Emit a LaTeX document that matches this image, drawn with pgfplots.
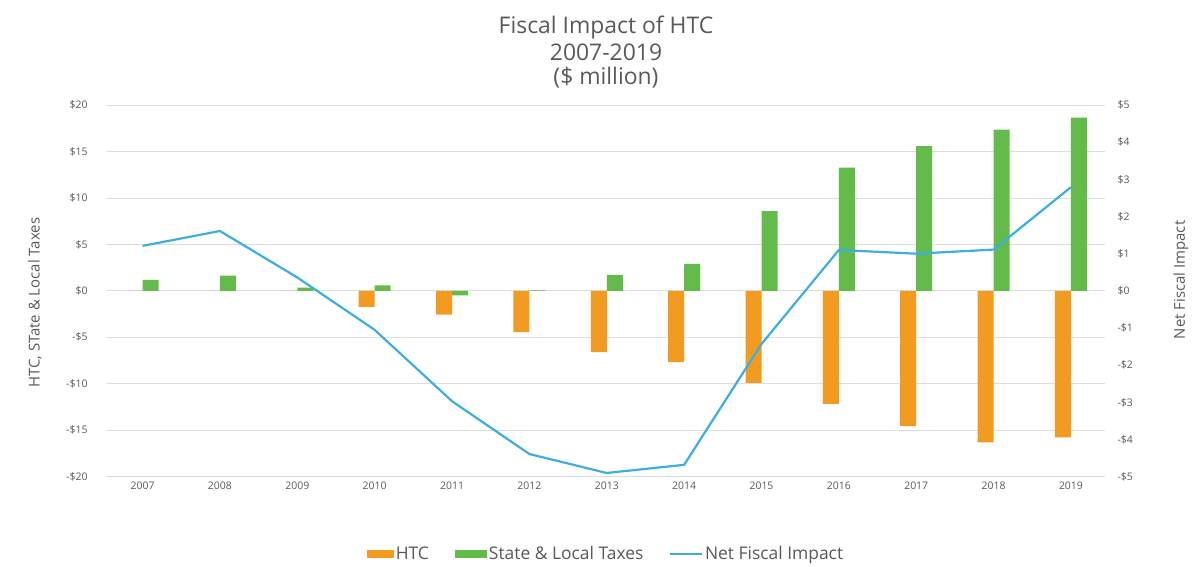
\documentclass[border=0pt]{standalone}
\usepackage{pgfplots}
\pgfplotsset{compat=1.18}
\usepackage{fontspec}
\setmainfont{Open Sans}
\definecolor{htc}{HTML}{F39A21}
\definecolor{slt}{HTML}{62BB4A}
\definecolor{nfi}{HTML}{3DAEE0}
\definecolor{txt}{HTML}{595959}
\definecolor{grd}{HTML}{DDDDDD}
\begin{document}
\begin{tikzpicture}
\pgfplotsset{
  base/.style={
    scale only axis, width=998bp, height=371.7bp,
    xmin=-0.46, xmax=12.44,
    tick style={draw=none},
    ticklabel style={font=\fontsize{10.5}{11}\selectfont, text=txt},
    /pgf/number format/assume math mode=true,
  }
}
\begin{axis}[base, name=ax,
  ymin=-20, ymax=20,
  axis line style={draw=none},
  ytick={-20,-15,-10,-5,0,5,10,15,20},
  yticklabels={-\$20,-\$15,-\$10,-\$5,\$0,\$5,\$10,\$15,\$20},
  yticklabel style={xshift=-16bp},
  ymajorgrids, grid style={grd, line width=0.8pt},
  xtick={0,...,12},
  xticklabels={2007,2008,2009,2010,2011,2012,2013,2014,2015,2016,2017,2018,2019},
  xticklabel style={yshift=-2bp},
  legend columns=3,
  legend style={draw=none, at={(0.5,-0.208)}, anchor=center,
    font=\fontsize{17.5}{19}\selectfont, text=txt,
    /tikz/every even column/.append style={column sep=24bp},
    inner sep=0pt},
]
\addplot[ybar, bar width=16bp, bar shift=-8bp, fill=htc, draw=none,
  legend image code/.code={\fill[htc] (0bp,-4bp) rectangle (27bp,4bp);}]
  coordinates {(0,0) (1,0) (2,0) (3,-1.72) (4,-2.55) (5,-4.45) (6,-6.6) (7,-7.68) (8,-9.9) (9,-12.16) (10,-14.57) (11,-16.3) (12,-15.76)};
\addlegendentry{HTC}
\addplot[ybar, bar width=16bp, bar shift=8bp, fill=slt, draw=none,
  legend image code/.code={\fill[slt] (0bp,-4bp) rectangle (32bp,4bp);}]
  coordinates {(0,1.18) (1,1.64) (2,0.35) (3,0.6) (4,-0.5) (5,0.06) (6,1.72) (7,2.9) (8,8.57) (9,13.27) (10,15.57) (11,17.36) (12,18.65)};
\addlegendentry{State \& Local Taxes}
\addlegendimage{nfi, line width=1.6pt, legend image code/.code={\draw[nfi, line width=1.6pt] (0bp,0bp) -- (32bp,0bp);}}
\addlegendentry{Net Fiscal Impact}
\end{axis}
\begin{axis}[base,
  ymin=-5, ymax=5,
  axis x line=none,
  axis y line*=right,
  axis line style={draw=none},
  ytick={-5,-4,-3,-2,-1,0,1,2,3,4,5},
  yticklabels={-\$5,-\$4,-\$3,-\$2,-\$1,\$0,\$1,\$2,\$3,\$4,\$5},
  yticklabel style={anchor=west, xshift=9bp},
]
\addplot[nfi, line width=2.2pt, mark=none]
  coordinates {(0,1.21) (1,1.61) (2,0.36) (3,-1.05) (4,-2.97) (5,-4.39) (6,-4.9) (7,-4.68) (8,-1.43) (9,1.10) (10,1.0) (11,1.11) (12,2.79)};
\end{axis}
\node[font=\fontsize{15}{17}\selectfont, text=txt, rotate=90] at ([xshift=-72bp,yshift=-12bp]ax.west) {HTC, STate \& Local Taxes};
\node[font=\fontsize{15}{17}\selectfont, text=txt, rotate=90] at ([xshift=76bp,yshift=11bp]ax.east) {Net Fiscal Impact};
\node[font=\fontsize{23}{25}\selectfont, text=txt] at ([yshift=78bp]ax.north) {Fiscal Impact of HTC};
\node[font=\fontsize{23}{25}\selectfont, text=txt] at ([yshift=53bp]ax.north) {2007-2019};
\node[font=\fontsize{23}{25}\selectfont, text=txt] at ([yshift=27bp]ax.north) {(\$ million)};
\path[use as bounding box] ([xshift=-107bp,yshift=-89.3bp]ax.south west) rectangle ([xshift=88bp,yshift=105bp]ax.north east);
\end{tikzpicture}
\end{document}
